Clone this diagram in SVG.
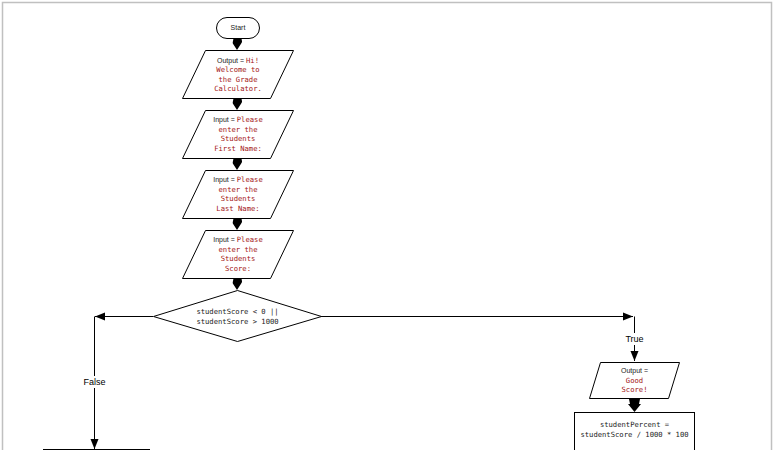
<svg xmlns="http://www.w3.org/2000/svg" width="775" height="450" viewBox="0 0 775 450">
<defs>
<style>
.shape{fill:#fff;stroke:#000;stroke-width:1}
.lbl{font-family:"Liberation Sans",Arial,sans-serif;font-size:7px;fill:#222;text-anchor:middle}
.code{font-family:"DejaVu Sans Mono","Liberation Mono",monospace;font-size:7.2px;text-anchor:middle}
.red{fill:#a31515}
.blk{fill:#222}
.edge{fill:none;stroke:#000;stroke-width:1}
.elbl{font-family:"Liberation Sans",Arial,sans-serif;font-size:9px;fill:#000;text-anchor:middle}
.drop{fill:#000}
</style>
<marker id="arr" viewBox="0 0 10 10" refX="10" refY="5" markerWidth="10" markerHeight="10" markerUnits="userSpaceOnUse" orient="auto">
<path d="M0,1 L10,5 L0,9 Z" fill="#000"/>
</marker>
</defs>
<rect x="2.5" y="2.5" width="769" height="470" fill="none" stroke="#c0c0c0" stroke-width="1.5"/>

<g id="connectors">
<path class="drop" d="M233,41 A4.5,4.5 0 1 1 241.2,43.5 L237,50 L232.8,43.5 A4.5,4.5 0 0 1 233,41 Z"/>
<path class="drop" d="M233,101 A4.5,4.5 0 1 1 241.2,103.5 L237,110 L232.8,103.5 A4.5,4.5 0 0 1 233,101 Z"/>
<path class="drop" d="M233,161 A4.5,4.5 0 1 1 241.2,163.5 L237,170 L232.8,163.5 A4.5,4.5 0 0 1 233,161 Z"/>
<path class="drop" d="M233,221 A4.5,4.5 0 1 1 241.2,223.5 L237,230 L232.8,223.5 A4.5,4.5 0 0 1 233,221 Z"/>
<path class="drop" d="M233,281 A4.5,4.5 0 1 1 241.2,283.5 L237,290 L232.8,283.5 A4.5,4.5 0 0 1 233,281 Z"/>
<path class="edge" d="M153,316.5 H95" marker-end="url(#arr)"/>
<path class="edge" d="M94.5,316.5 V449" marker-end="url(#arr)"/>
<rect x="80" y="376" width="29" height="12" fill="#fff"/>
<text class="elbl" x="94.5" y="385">False</text>
<path class="edge" d="M321,316.5 H633" marker-end="url(#arr)"/>
<path class="edge" d="M634.5,316.5 V361" marker-end="url(#arr)"/>
<rect x="622" y="333" width="25" height="12" fill="#fff"/>
<text class="elbl" x="634.5" y="342">True</text>
<path class="drop" d="M629,399 H640 L639,404 L641,404 L634.5,412 L628,404 L630,404 Z"/>
<path class="edge" d="M43,449.5 H150"/>
<path class="drop" d="M631,447 H638 V450 H631 Z"/>
</g>

<g id="start">
<rect class="shape" x="216.5" y="17.5" width="43" height="21" rx="10.5"/>
<text class="lbl" x="238" y="30">Start</text>
</g>

<g id="output1">
<polygon class="shape" points="205.5,50.5 293.5,50.5 270.5,98.5 182.5,98.5"/>
<text x="238" y="63"><tspan class="lbl">Output = </tspan><tspan class="code red">Hi!</tspan></text>
<text class="code red" x="238" y="72">Welcome to</text>
<text class="code red" x="238" y="81.5">the Grade</text>
<text class="code red" x="238" y="91">Calculator.</text>
</g>

<g id="input1">
<polygon class="shape" points="205.5,110.5 293.5,110.5 270.5,158.5 182.5,158.5"/>
<text x="238" y="122"><tspan class="lbl">Input = </tspan><tspan class="code red">Please</tspan></text>
<text class="code red" x="238" y="131.5">enter the</text>
<text class="code red" x="238" y="141">Students</text>
<text class="code red" x="238" y="151">First Name:</text>
</g>

<g id="input2">
<polygon class="shape" points="205.5,170.5 293.5,170.5 270.5,218.5 182.5,218.5"/>
<text x="238" y="182"><tspan class="lbl">Input = </tspan><tspan class="code red">Please</tspan></text>
<text class="code red" x="238" y="191.5">enter the</text>
<text class="code red" x="238" y="201">Students</text>
<text class="code red" x="238" y="211">Last Name:</text>
</g>

<g id="input3">
<polygon class="shape" points="205.5,230.5 293.5,230.5 270.5,278.5 182.5,278.5"/>
<text x="238" y="242"><tspan class="lbl">Input = </tspan><tspan class="code red">Please</tspan></text>
<text class="code red" x="238" y="251.5">enter the</text>
<text class="code red" x="238" y="261">Students</text>
<text class="code red" x="238" y="271">Score:</text>
</g>

<g id="decision">
<polygon class="shape" points="237.5,290.5 321.5,316.5 237.5,341.5 153.5,316.5"/>
<text class="code blk" x="237.5" y="314">studentScore &lt; 0 ||</text>
<text class="code blk" x="237.5" y="324">studentScore &gt; 1000</text>
</g>

<g id="output2">
<polygon class="shape" points="600.5,362.5 679.5,362.5 668.5,398.5 589.5,398.5"/>
<text class="lbl" x="634.5" y="373">Output =</text>
<text class="code red" x="634.5" y="382.5">Good</text>
<text class="code red" x="634.5" y="392">Score!</text>
</g>

<g id="percent">
<rect class="shape" x="574.5" y="412.5" width="120" height="45"/>
<text class="code blk" x="634.5" y="427">studentPercent =</text>
<text class="code blk" x="634.5" y="437">studentScore / 1000 * 100</text>
</g>
</svg>
